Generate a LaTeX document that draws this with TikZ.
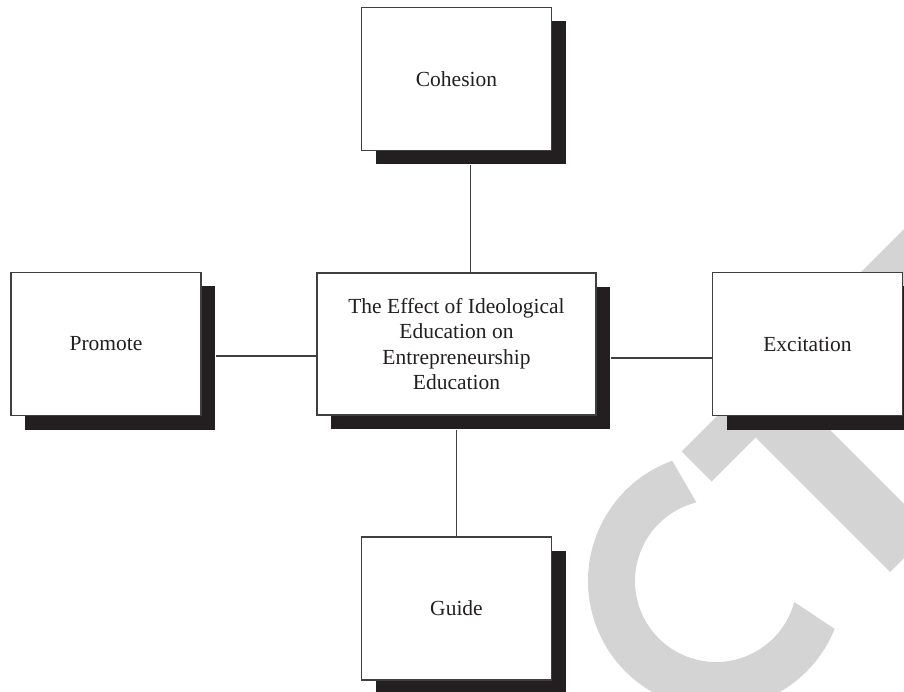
\documentclass[tikz,border=0pt]{standalone}
\usepackage{fontspec}
\setmainfont{Liberation Serif}
\usetikzlibrary{calc,shadows}
\definecolor{ink}{HTML}{231F20}
\definecolor{rim}{HTML}{3F3F3F}
\definecolor{wmark}{HTML}{D4D4D4}
\tikzset{
  box/.style={draw=rim, line width=1.1pt, fill=white, text=ink,
    inner sep=0pt, align=center,
    font=\fontsize{21.5}{25.5}\selectfont,
    general shadow={fill=ink, shadow xshift=14pt, shadow yshift=-14pt}},
  smallbox/.style={box, minimum width=190pt, minimum height=143pt},
  wide/.style={box, minimum width=279pt, minimum height=142pt},
  link/.style={draw=rim, line width=1.4pt}
}
\begin{document}
\begin{tikzpicture}[x=1pt,y=-1pt]
\useasboundingbox (0,0) rectangle (904,692);
\begin{scope}
\clip (0,0) rectangle (904,692);
% light grey letters behind the diagram
\fill[wmark] (716,581) ++(-110:128) arc[start angle=-110,end angle=-338,radius=128]
  -- ($(716,581)+(15:81)$) arc[start angle=15,end angle=256,radius=81] -- cycle;
\fill[wmark] (681.5,451.5) -- (1066.5,66.5) -- (1096.5,96.5) -- (755.5,437.5)
  -- (890,572) -- (931,531) -- (796.5,396.5) -- (711.5,481.5) -- cycle;
\end{scope}

% boxes
\node[smallbox] (coh) at (456.5,79) {Cohesion};
\node[wide]     (ctr) at (456.5,344) {The Effect of Ideological\\Education on\\Entrepreneurship\\Education};
\node[smallbox] (pro) at (106,344) {Promote};
\node[smallbox] (exc) at (807.5,344) {Excitation};
\node[smallbox] (gui) at (456.5,608.5) {Guide};

% connectors, attached along the shadow centre lines
\coordinate (cohS) at ($(coh.south)+(14,14)$);
\coordinate (proS) at ($(pro.east)+(14,12)$);
\coordinate (ctrE) at ($(ctr.east)+(14,14)$);
\coordinate (ctrS) at ($(ctr.south)+(0,14)$);
\draw[link] (cohS) -- (cohS |- ctr.north);
\draw[link] (proS) -- (proS -| ctr.west);
\draw[link] (ctrE) -- (ctrE -| exc.west);
\draw[link] (ctrS) -- (ctrS |- gui.north);
\end{tikzpicture}
\end{document}
